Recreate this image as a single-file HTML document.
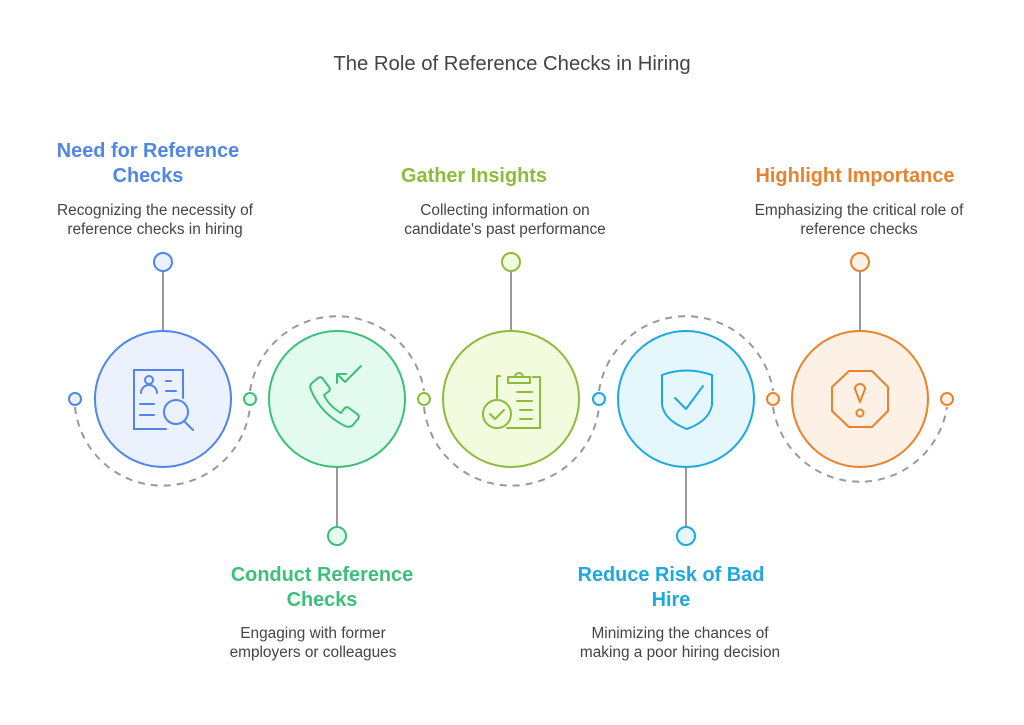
<!DOCTYPE html>
<html><head><meta charset="utf-8"><style>
html,body{margin:0;padding:0;background:#fff;}
svg{display:block;font-family:"Liberation Sans",Arial,sans-serif;}
.t{font-weight:bold;font-size:19.9px;text-anchor:middle;}
.d{font-size:15.4px;fill:#444;text-anchor:middle;}
</style></head><body>
<svg width="1024" height="725" viewBox="0 0 1024 725" xmlns="http://www.w3.org/2000/svg">
<text x="512" y="70" font-size="20.3" fill="#444" text-anchor="middle">The Role of Reference Checks in Hiring</text>
<g fill="none" stroke="#999" stroke-width="2" stroke-dasharray="7,6">
<path d="M75 407 A88 88 0 0 0 250 407"/>
<path d="M250 391 A88 88 0 0 1 424 391"/>
<path d="M424 407 A88 88 0 0 0 599 407"/>
<path d="M599 391 A88 88 0 0 1 773 391"/>
<path d="M773 407 A88 88 0 0 0 947 407"/>
</g>
<g stroke="#999" stroke-width="2">
<line x1="163" y1="271" x2="163" y2="331"/>
<line x1="511" y1="271" x2="511" y2="331"/>
<line x1="860" y1="271" x2="860" y2="331"/>
<line x1="337" y1="467" x2="337" y2="527"/>
<line x1="686" y1="467" x2="686" y2="527"/>
</g>
<g stroke-width="2">
<circle cx="163" cy="399" r="68" fill="#ebf2fe" stroke="#4f86e8"/>
<circle cx="337" cy="399" r="68" fill="#e3fbee" stroke="#3cbf78"/>
<circle cx="511" cy="399" r="68" fill="#f3fbdf" stroke="#8dbb3b"/>
<circle cx="686" cy="399" r="68" fill="#e5f6fd" stroke="#1ea8e0"/>
<circle cx="860" cy="399" r="68" fill="#fdf0e4" stroke="#e6832e"/>
<circle cx="163" cy="262" r="9" fill="#ebf2fe" stroke="#4f86e8"/>
<circle cx="511" cy="262" r="9" fill="#f3fbdf" stroke="#8dbb3b"/>
<circle cx="860" cy="262" r="9" fill="#fdf0e4" stroke="#e6832e"/>
<circle cx="337" cy="536" r="9" fill="#e3fbee" stroke="#3cbf78"/>
<circle cx="686" cy="536" r="9" fill="#e5f6fd" stroke="#1ea8e0"/>
<circle cx="75" cy="399" r="6" fill="#ebf2fe" stroke="#4f86e8"/>
<circle cx="250" cy="399" r="6" fill="#e3fbee" stroke="#3cbf78"/>
<circle cx="424" cy="399" r="6" fill="#f3fbdf" stroke="#8dbb3b"/>
<circle cx="599" cy="399" r="6" fill="#e5f6fd" stroke="#1ea8e0"/>
<circle cx="773" cy="399" r="6" fill="#fdf0e4" stroke="#e6832e"/>
<circle cx="947" cy="399" r="6" fill="#fdf0e4" stroke="#e6832e"/>
</g>
<g fill="none" stroke="#4f86e8" stroke-width="2" stroke-linecap="round">
<path d="M166 429 H134 V370 H183 V398"/>
<circle cx="149" cy="380" r="4"/>
<path d="M141 393 a8 8 0 0 1 16 0"/>
<line x1="166" y1="381" x2="171" y2="381"/><line x1="166" y1="391" x2="176" y2="391"/>
<line x1="140" y1="404" x2="154" y2="404"/><line x1="140" y1="415" x2="154" y2="415"/>
<circle cx="176" cy="412" r="12"/><line x1="184" y1="421" x2="193" y2="430"/>
</g>
<g fill="none" stroke="#3cbf78" stroke-width="2" stroke-linecap="round" stroke-linejoin="round">
<path d="M312 383 l6-5 q3-2 5 1 l6 8 q2 3-1 5 l-4 3 q5 11 17 18 l3-4 q2-3 5-1 l8 6 q3 2 1 5 l-5 6 q-3 3-8 1 q-24-12-34-36 q-2-4 1-7z"/>
<path d="M337 374 l8 8 l16-16"/><path d="M337 374 h9 M337 374 v9"/>
</g>
<g fill="none" stroke="#8dbb3b" stroke-width="2" stroke-linecap="round" stroke-linejoin="round">
<path d="M500 376 h-3 v22 M507 428 h33 v-51 h-7"/>
<rect x="508" y="377" width="22" height="6"/>
<path d="M515 377 a4 4 0 0 1 8 0"/>
<line x1="517" y1="392" x2="532" y2="392"/><line x1="517" y1="401" x2="532" y2="401"/>
<line x1="520" y1="410" x2="532" y2="410"/><line x1="520" y1="419" x2="532" y2="419"/>
<circle cx="497" cy="414" r="14"/><path d="M490 414 l5 5 l9-9"/>
</g>
<g fill="none" stroke="#1ea8e0" stroke-width="2" stroke-linecap="round" stroke-linejoin="round">
<path d="M662 375 q24-9 50 0 v30 q-3 16-25 24 q-22-8-25-24z"/>
<path d="M675 398 l11 11 l17-23"/>
</g>
<g fill="none" stroke="#e6832e" stroke-width="2" stroke-linejoin="round">
<polygon points="849,371 872,371 888,387 888,411 872,427 849,427 832,411 832,387"/>
<path d="M860 402 l-5-13 a5 5 0 1 1 10 0z"/>
<circle cx="860" cy="413" r="3.5"/>
</g>
<text class="t" fill="#4f86e8" x="148" y="157">Need for Reference</text>
<text class="t" fill="#4f86e8" x="148" y="182">Checks</text>
<text class="d" x="155" y="215">Recognizing the necessity of</text>
<text class="d" x="155" y="234">reference checks in hiring</text>
<text class="t" fill="#8dbb3b" x="474" y="182">Gather Insights</text>
<text class="d" x="505" y="215">Collecting information on</text>
<text class="d" x="505" y="234">candidate's past performance</text>
<text class="t" fill="#e6832e" x="855" y="182">Highlight Importance</text>
<text class="d" x="859" y="215">Emphasizing the critical role of</text>
<text class="d" x="859" y="234">reference checks</text>
<text class="t" fill="#3cbf78" x="322" y="581">Conduct Reference</text>
<text class="t" fill="#3cbf78" x="322" y="606">Checks</text>
<text class="d" x="313" y="638">Engaging with former</text>
<text class="d" x="313" y="657">employers or colleagues</text>
<text class="t" fill="#1ea8e0" x="671" y="581">Reduce Risk of Bad</text>
<text class="t" fill="#1ea8e0" x="671" y="606">Hire</text>
<text class="d" x="680" y="638">Minimizing the chances of</text>
<text class="d" x="680" y="657">making a poor hiring decision</text>
</svg>
</body></html>
